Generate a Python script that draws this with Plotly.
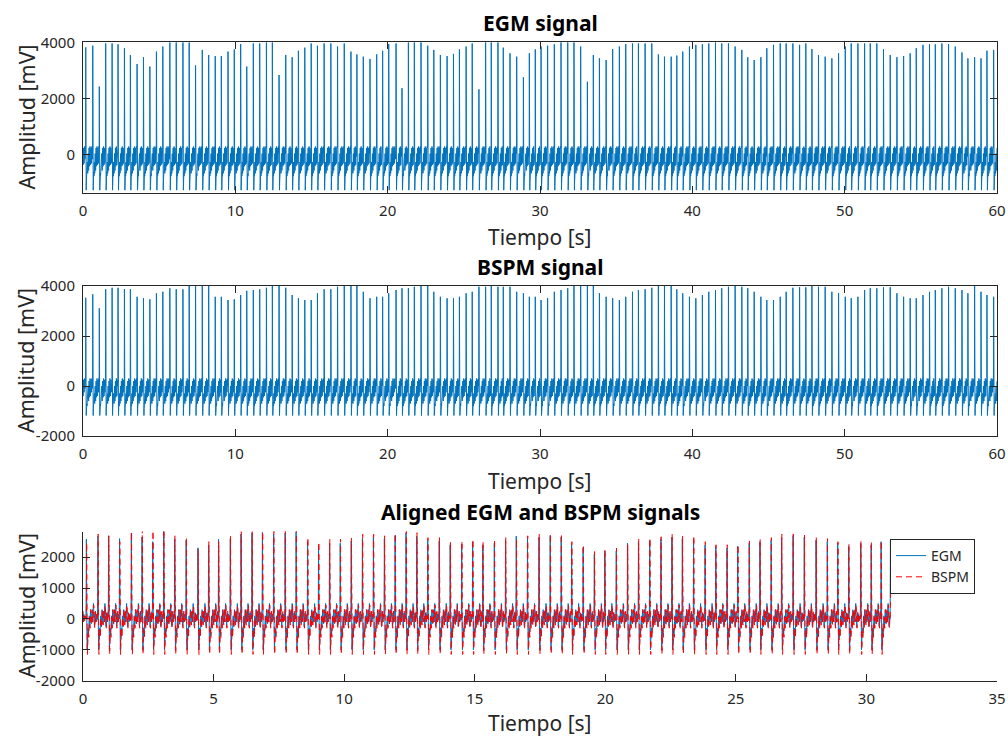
import numpy as np
import plotly.graph_objects as go

# ---------------------------------------------------------------- data
SAMPLE_RATE_HZ = 100
RECORD_END_S = 60.0
ALIGNED_END_S = 30.93
SPIKE_INDEX = 2  # position of the activation spike inside a beat shape

# activation instants of the 60 s recordings (s)
BEAT_TIMES_S = [
    0.18, 0.64, 1.07, 1.49, 1.91, 2.30, 2.72, 3.11, 3.55, 3.97,
    4.39, 4.82, 5.24, 5.70, 6.12, 6.56, 6.97, 7.39, 7.83, 8.25,
    8.68, 9.08, 9.52, 9.93, 10.35, 10.75, 11.18, 11.60, 12.04, 12.43,
    12.87, 13.31, 13.73, 14.14, 14.56, 14.98, 15.39, 15.83, 16.27, 16.71,
    17.15, 17.59, 17.98, 18.40, 18.84, 19.28, 19.67, 20.07, 20.55, 20.94,
    21.36, 21.75, 22.19, 22.63, 23.03, 23.46, 23.90, 24.32, 24.71, 25.15,
    25.55, 25.99, 26.43, 26.80, 27.24,
    27.59, 28.03, 28.47, 28.91, 29.30, 29.69, 30.07, 30.50, 30.94, 31.38,
    31.82, 32.23, 32.67, 33.11, 33.50, 33.90, 34.34, 34.77, 35.21, 35.63,
    36.07, 36.46, 36.90, 37.34, 37.77, 38.17, 38.61, 38.98, 39.37, 39.81,
    40.23, 40.66, 41.08, 41.52, 41.93, 42.37, 42.81, 43.25, 43.64, 44.06,
    44.50, 44.89, 45.33, 45.77, 46.16, 46.60, 47.04, 47.45, 47.85, 48.28,
    48.72, 49.16, 49.60, 50.04, 50.43, 50.87, 51.31, 51.68, 52.11, 52.55,
    52.99, 53.43, 53.87, 54.30, 54.70, 55.14, 55.57, 55.95, 56.38, 56.82,
    57.26, 57.70, 58.09, 58.53, 58.95, 59.34, 59.78,
]

EGM_PEAKS_MV = [
    3820, 3880, 2430, 3960, 3960, 3930, 3790, 3550, 3230, 3470,
    3140, 3670, 3850, 4000, 4000, 4000, 4000, 3180, 3730, 3550,
    3510, 3510, 3670, 3750, 3940, 3140, 3960, 3960, 4000, 4000,
    2840, 3550, 3470, 3700, 3810, 3960, 3880, 3960, 3960, 3850,
    3960, 3670, 3570, 3490, 3410, 3570, 3700, 3940, 3960, 2370,
    4000, 4000, 4000, 3880, 3730, 3550, 3510, 3590, 3750, 3850,
    3960, 2330, 4000, 4000, 4000,
    3810, 3610, 3490, 2760, 3610, 3750, 3850, 3880, 3930, 4000,
    4000, 4000, 3850, 2600, 3550, 3430, 3370, 3760, 3850, 3940,
    3960, 3960, 3960, 3960, 3570, 3490, 3490, 3530, 3670, 3850,
    3910, 3930, 3960, 4000, 3960, 3960, 3850, 3730, 3470, 3370,
    3470, 3790, 3910, 3960, 3960, 3960, 3910, 3960, 3760, 3550,
    3490, 3430, 3610, 3850, 3960, 3960, 3960, 3960, 3960, 3750,
    3550, 3470, 3510, 3610, 3790, 3910, 3930, 3930, 3960, 3940,
    3850, 3640, 3430, 3470, 3430, 3700, 3730,
]

BSPM_PEAKS_MV = [
    3530, 3670, 3110, 3870, 3930, 3930, 3880, 3870, 3570, 3510,
    3470, 3710, 3770, 3910, 3870, 3870, 4000, 4000, 4000, 4000,
    3570, 3570, 3440, 3470, 3640, 3810, 3840, 3870, 3930, 4000,
    4000, 3930, 3640, 3510, 3440, 3440, 3710, 3870, 3870, 3970,
    4000, 4000, 4000, 3770, 3510, 3570, 3570, 3710, 3840, 3910,
    3910, 3970, 4000, 4000, 3770, 3570, 3510, 3510, 3570, 3710,
    3770, 3970, 3970, 4000, 3970,
    3970, 3970, 3770, 3710, 3570, 3570, 3440, 3510, 3770, 3840,
    3910, 4000, 4000, 4000, 4000, 3710, 3570, 3510, 3440, 3570,
    3770, 3840, 3870, 3930, 4000, 4000, 4000, 3870, 3710, 3570,
    3510, 3640, 3770, 3840, 3910, 3970, 4000, 3970, 3910, 3770,
    3570, 3440, 3440, 3570, 3770, 3930, 3950, 3950, 4000, 3970,
    3970, 3770, 3710, 3570, 3510, 3570, 3840, 3910, 3910, 3950,
    3950, 3710, 3570, 3510, 3510, 3640, 3770, 3840, 3910, 3970,
    3910, 3840, 3710, 4000, 3770, 3640, 3570,
]

# one beat sampled every 10 ms (mV); the spike sample is set per beat
EGM_BEAT_SHAPE_MV = [
    50, 250, 0, 1400, -500, -1250, -950, -700, -600, -650,
    -750, -500, -250, -300, -550, -650, -400, -100, 50, -150,
    -450, -550, -300, 0, 250, 100, -250, -400, -200, 150,
    300, 150, -150, -350, -250, 50, 250, 200, -50, -300,
    -200, 50, 300, 250, 0, -150, -50, 50,
]
BSPM_BEAT_SHAPE_MV = [
    0, 300, 0, 1600, -300, -1180, -900, -750, -650, -700,
    -800, -550, -300, -350, -600, -700, -450, -150, 0, -200,
    -500, -600, -350, -50, 200, 100, -200, -450, -300, 100,
    300, 200, -100, -400, -300, 0, 250, 250, 0, -250,
    -200, 50, 300, 250, 50, -100, -50, 0,
]

# aligned 31 s excerpt
ALIGNED_BEAT_TIMES_S = [
    0.13, 0.57, 0.98, 1.40, 1.85, 2.26, 2.67, 3.09, 3.51, 3.95,
    4.40, 4.81, 5.19, 5.64, 6.05, 6.47, 6.87, 7.30, 7.74, 8.16,
    8.60, 9.02, 9.44, 9.85, 10.27, 10.70, 11.12, 11.54, 11.95, 12.37,
    12.78, 13.20, 13.64, 14.06, 14.50, 14.92,
    15.31, 15.75, 16.18, 16.59, 17.02, 17.46, 17.89, 18.31, 18.71, 19.15,
    19.58, 19.98, 20.42, 20.85, 21.27, 21.70, 22.13, 22.55, 22.95, 23.38,
    23.82, 24.23, 24.66, 25.07, 25.51, 25.92, 26.35, 26.75, 27.19, 27.62,
    28.07, 28.50, 28.90, 29.32, 29.78, 30.18, 30.56, 30.92,
]
ALIGNED_EGM_PEAKS_MV = [
    2580, 2680, 2690, 2600, 2780, 2650, 2500, 2850, 2600, 2550,
    2300, 2400, 2580, 2600, 2750, 2780, 2800, 2750, 2780, 2820,
    2500, 2350, 2450, 2450, 2520, 2600, 2650, 2600, 2700, 2780,
    2680, 2550, 2520, 2400, 2420, 2480,
    2400, 2450, 2560, 2680, 2600, 2650, 2700, 2650, 2420, 2300,
    2100, 2200, 2200, 2450, 2500, 2550, 2600, 2650, 2600, 2550,
    2400, 2350, 2300, 2350, 2450, 2500, 2550, 2650, 2700, 2650,
    2550, 2500, 2450, 2350, 2450, 2400, 2500, 2550,
]
ALIGNED_BSPM_PEAKS_MV = [
    2470, 2750, 2690, 2500, 2820, 2900, 2850, 2900, 2690, 2630,
    2250, 2500, 2500, 2690, 2830, 2830, 2820, 2850, 2850, 2900,
    2630, 2490, 2580, 2580, 2610, 2740, 2740, 2690, 2760, 2860,
    2790, 2630, 2630, 2490, 2520, 2580,
    2500, 2580, 2630, 2580, 2690, 2750, 2750, 2750, 2500, 2400,
    2180, 2240, 2290, 2400, 2580, 2610, 2660, 2750, 2690, 2690,
    2500, 2400, 2400, 2400, 2520, 2580, 2630, 2750, 2750, 2710,
    2630, 2600, 2500, 2430, 2520, 2500, 2520, 2460,
]
ALIGNED_EGM_SHAPE_MV = [
    0, 350, 0, 800, -400, -1000, -800, -550, -300, -400,
    -550, -300, -50, 100, -100, -250, -100, 150, 300, 150,
    -50, -150, 0, 200, 250, 50, -100, 100, 350, 500,
    300, 100, -100, -250, -100, 100, 200, 50, -100, 0,
    150, 100, -50, 0, 100, 50, 0, 0,
]
ALIGNED_BSPM_SHAPE_MV = [
    0, 400, 0, 1000, -600, -1150, -900, -600, -350, -450,
    -600, -350, -100, 50, -150, -300, -150, 100, 300, 200,
    0, -200, -50, 150, 300, 100, -100, 50, 300, 450,
    350, 150, -50, -300, -150, 50, 250, 100, -100, -50,
    100, 150, 0, -50, 100, 50, 0, 0,
]
ALIGNED_BSPM_LAG_S = 0.01

X_TICKS_60 = [0, 10, 20, 30, 40, 50, 60]
X_TICKS_35 = [0, 5, 10, 15, 20, 25, 30, 35]
Y_TICKS_EGM = [0, 2000, 4000]
Y_TICKS_BSPM = [-2000, 0, 2000, 4000]
Y_TICKS_ALIGNED = [-2000, -1000, 0, 1000, 2000]

BLUE = "#0072BD"
RED = "#FF0000"
AXIS_GREY = "#262626"
FONT = "Noto Sans"


def assemble_trace(beat_times, peaks, shape, t_end, lag_s=0.0):
    """Lay one beat shape at every activation instant, spike set to that beat's peak."""
    n = int(round(t_end * SAMPLE_RATE_HZ)) + 1
    t = np.arange(n) / SAMPLE_RATE_HZ
    y = np.zeros(n)
    shape = np.asarray(shape, dtype=float)
    starts = [int(round((bt + lag_s) * SAMPLE_RATE_HZ)) - SPIKE_INDEX for bt in beat_times]
    lead = starts[0]
    if lead > 0:
        y[:lead] = shape[-lead:]
    for k, s in enumerate(starts):
        stop = starts[k + 1] if k + 1 < len(starts) else n
        beat = shape.copy()
        beat[SPIKE_INDEX] = peaks[k]
        length = stop - s
        if length > len(beat):
            beat = np.concatenate([beat, np.full(length - len(beat), beat[-1])])
        seg = beat[:length]
        lo, hi = max(s, 0), min(stop, n)
        y[lo:hi] = seg[lo - s:hi - s]
    return t, y


t_egm, egm = assemble_trace(BEAT_TIMES_S, EGM_PEAKS_MV, EGM_BEAT_SHAPE_MV, RECORD_END_S)
t_bspm, bspm = assemble_trace(BEAT_TIMES_S, BSPM_PEAKS_MV, BSPM_BEAT_SHAPE_MV, RECORD_END_S)
t_al, egm_al = assemble_trace(ALIGNED_BEAT_TIMES_S, ALIGNED_EGM_PEAKS_MV,
                              ALIGNED_EGM_SHAPE_MV, ALIGNED_END_S)
t_al2, bspm_al = assemble_trace(ALIGNED_BEAT_TIMES_S, ALIGNED_BSPM_PEAKS_MV,
                                ALIGNED_BSPM_SHAPE_MV, ALIGNED_END_S, ALIGNED_BSPM_LAG_S)

# ---------------------------------------------------------------- figure
W, H = 1008, 738


def fx(px):
    return px / W


def fy(px):
    return 1 - px / H


LEFT, RIGHT = 83, 997
PANELS = [(42.3, 192.7), (286, 436), (531.5, 680.7)]

fig = go.Figure()
fig.add_trace(go.Scatter(x=t_egm, y=egm, mode="lines", line=dict(color=BLUE, width=1),
                         xaxis="x", yaxis="y", showlegend=False, hoverinfo="skip"))
fig.add_trace(go.Scatter(x=t_bspm, y=bspm, mode="lines", line=dict(color=BLUE, width=1),
                         xaxis="x2", yaxis="y2", showlegend=False, hoverinfo="skip"))
fig.add_trace(go.Scatter(x=t_al, y=egm_al, mode="lines", name="EGM",
                         line=dict(color=BLUE, width=1),
                         xaxis="x3", yaxis="y3", hoverinfo="skip"))
fig.add_trace(go.Scatter(x=t_al2, y=bspm_al, mode="lines", name="BSPM",
                         line=dict(color=RED, width=1, dash="6px,4px"),
                         xaxis="x3", yaxis="y3", hoverinfo="skip"))

tick_font = dict(family=FONT, size=15, color=AXIS_GREY)


def axis(domain, rng, tickvals, mirror, anchor):
    return dict(
        domain=domain, range=rng, anchor=anchor, automargin=False,
        tickmode="array", tickvals=tickvals, ticktext=[str(v) for v in tickvals],
        ticks="inside", ticklen=7, tickwidth=1, tickcolor=AXIS_GREY,
        showline=True, linecolor=AXIS_GREY, linewidth=1, mirror=mirror,
        showgrid=False, zeroline=False, tickfont=tick_font,
        ticklabelstandoff=4, ticklabeloverflow="allow",
    )


xdom = [fx(LEFT), fx(RIGHT)]
ydoms = [[fy(b), fy(t)] for t, b in PANELS]

fig.update_layout(
    width=W, height=H,
    margin=dict(l=0, r=0, t=0, b=0, pad=0, autoexpand=False),
    paper_bgcolor="white", plot_bgcolor="white",
    xaxis=axis(xdom, [0, 60], X_TICKS_60, "allticks", "y"),
    yaxis=axis(ydoms[0], [-1340, 4000], Y_TICKS_EGM, "allticks", "x"),
    xaxis2=axis(xdom, [0, 60], X_TICKS_60, "allticks", "y2"),
    yaxis2=axis(ydoms[1], [-2000, 4000], Y_TICKS_BSPM, "allticks", "x2"),
    xaxis3=axis(xdom, [0, 35], X_TICKS_35, False, "y3"),
    yaxis3=axis(ydoms[2], [-2000, 2830], Y_TICKS_ALIGNED, False, "x3"),
    legend=dict(x=fx(890), y=fy(539), xanchor="left", yanchor="top",
                bgcolor="white", bordercolor=AXIS_GREY, borderwidth=1,
                font=dict(family=FONT, size=14, color=AXIS_GREY),
                tracegroupgap=0),
)

titles = ["EGM signal", "BSPM signal", "Aligned EGM and BSPM signals"]
title_y = [23, 267, 512]
xlabel_y = [237, 481, 723]
mid_x = (LEFT + RIGHT) / 2
annotations = []
for k in range(3):
    top, bottom = PANELS[k]
    annotations.append(dict(text=f"<b>{titles[k]}</b>", x=fx(mid_x), y=fy(title_y[k]),
                            xref="paper", yref="paper", xanchor="center", yanchor="middle",
                            showarrow=False, font=dict(family=FONT, size=21, color="black")))
    annotations.append(dict(text="Tiempo [s]", x=fx(mid_x), y=fy(xlabel_y[k]),
                            xref="paper", yref="paper", xanchor="center", yanchor="middle",
                            showarrow=False, font=dict(family=FONT, size=21, color=AXIS_GREY)))
    annotations.append(dict(text="Amplitud [mV]", x=fx(26), y=fy((top + bottom) / 2),
                            xref="paper", yref="paper", xanchor="center", yanchor="middle",
                            textangle=-90, showarrow=False,
                            font=dict(family=FONT, size=21.5, color=AXIS_GREY)))
fig.update_layout(annotations=annotations)

fig.write_html("out.html")
